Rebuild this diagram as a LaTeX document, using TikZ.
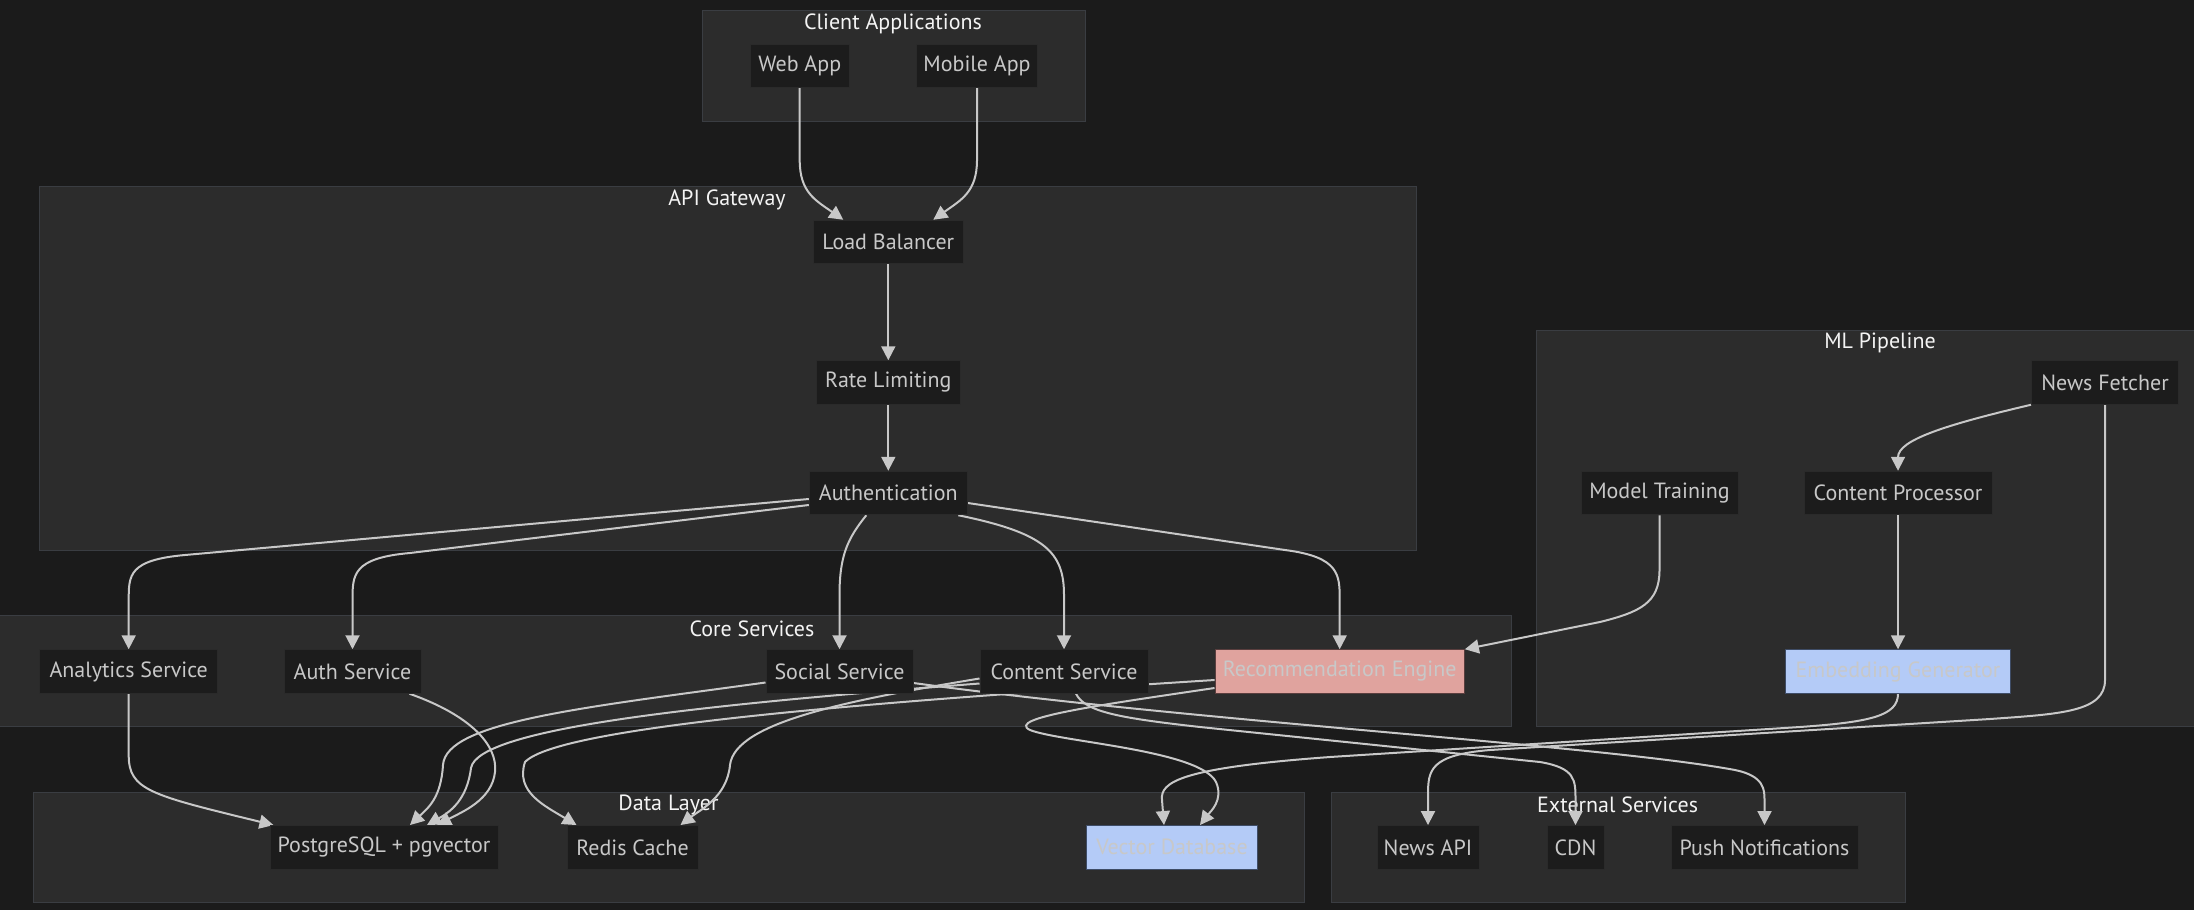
\documentclass[tikz,border=0pt]{standalone}
\usepackage{fontspec}
\newfontfamily\dfont{PT Sans}
\usetikzlibrary{arrows.meta}
\definecolor{bgc}{HTML}{1B1B1B}
\definecolor{clfill}{HTML}{2C2C2C}
\definecolor{cldraw}{HTML}{3A3D42}
\definecolor{ndfill}{HTML}{1C1C1C}
\definecolor{nddraw}{HTML}{2A2A2A}
\definecolor{ndtext}{HTML}{C8C8C8}
\definecolor{edgec}{HTML}{C8C8C8}
\definecolor{titlec}{HTML}{F4F4F4}
\definecolor{recfill}{HTML}{E0A39E}
\definecolor{recdraw}{HTML}{5A3E3E}
\definecolor{bluefill}{HTML}{B4CBF7}
\definecolor{bluedraw}{HTML}{3E4C66}
\pgfdeclarelayer{clusters}
\pgfdeclarelayer{edges}
\pgfsetlayers{clusters,edges,main}
\begin{document}
\begin{tikzpicture}[x=1pt,y=-1pt,
  nd/.style={draw=nddraw, line width=1pt, fill=ndfill, text=ndtext,
    font=\dfont\fontsize{22}{26}\selectfont, minimum height=43.5pt, inner sep=0pt},
  hot/.style={nd, fill=recfill, draw=recdraw},
  cool/.style={nd, fill=bluefill, draw=bluedraw},
  cluster/.style={draw=cldraw, line width=1pt, fill=clfill},
  ctitle/.style={text=titlec, font=\dfont\fontsize{22}{26}\selectfont, inner sep=0pt},
  edge/.style={draw=edgec, line width=2pt, -{Triangle[length=14pt,width=14pt]}},
]
\useasboundingbox (0,0) rectangle (2194,910);
\begin{pgfonlayer}{clusters}
\fill[bgc] (0,0) rectangle (2194,910);
\draw[cluster] (702.7,10) rectangle (1085,121.3);
\draw[cluster] (39,186) rectangle (1416,550);
\draw[cluster] (1536.5,330) rectangle (2200,726.7);
\draw[cluster] (-5,615.7) rectangle (1511,726.7);
\draw[cluster] (33.7,792.3) rectangle (1304,902.7);
\draw[cluster] (1331,792.3) rectangle (1905,902.7);
\node[ctitle] (tclient) at (893,23.5) {Client Applications};
\node[ctitle] (tapi) at (727,199.5) {API Gateway};
\node[ctitle] (tml) at (1880,342.5) {ML Pipeline};
\node[ctitle] (tcore) at (752,629) {Core Services};
\node[ctitle] (tdata) at (668.5,805) {Data Layer};
\node[ctitle] (text) at (1617.6,805) {External Services};
\end{pgfonlayer}

\node[nd, minimum width=99.3pt] (web) at (799.7,65.8) {Web App};
\node[nd, minimum width=120.6pt] (mob) at (977,65.8) {Mobile App};
\node[nd, minimum width=150pt] (lb) at (888.3,242) {Load Balancer};
\node[nd, minimum width=144pt] (rl) at (888.3,382.5) {Rate Limiting};
\node[nd, minimum width=158pt] (auth) at (888.3,493) {Authentication};
\node[nd, minimum width=147pt] (nf) at (2105,382.5) {News Fetcher};
\node[nd, minimum width=157pt] (mt) at (1659.5,493) {Model Training};
\node[nd, minimum width=188pt] (cp) at (1898,493) {Content Processor};
\node[cool, minimum width=225pt] (emb) at (1898,671.5) {Embedding Generator};
\node[nd, minimum width=177.5pt] (ana) at (128.7,671.5) {Analytics Service};
\node[nd, minimum width=137pt] (asv) at (352.5,671.5) {Auth Service};
\node[nd, minimum width=147pt] (soc) at (839.5,671.5) {Social Service};
\node[nd, minimum width=168pt] (con) at (1064,671.5) {Content Service};
\node[hot, minimum width=249.3pt] (rec) at (1339.7,671.5) {Recommendation Engine};
\node[nd, minimum width=228pt] (pg) at (384,847.3) {PostgreSQL + pgvector};
\node[nd, minimum width=131pt] (red) at (632.5,847.3) {Redis Cache};
\node[cool, minimum width=171.5pt] (vdb) at (1172,847.3) {Vector Database};
\node[nd, minimum width=102pt] (napi) at (1428,847.3) {News API};
\node[nd, minimum width=57pt] (cdn) at (1575.5,847.3) {CDN};
\node[nd, minimum width=187pt] (push) at (1764.5,847.3) {Push Notifications};

\begin{pgfonlayer}{edges}
\draw[edge] (web.south) -- (799.7,160) .. controls (799.7,192) and (815,200) .. ([xshift=-45pt]lb.north);
\draw[edge] (mob.south) -- (977,160) .. controls (977,192) and (961,200) .. ([xshift=45pt]lb.north);
\draw[edge] (lb.south) -- (rl.north);
\draw[edge] (rl.south) -- (auth.north);
\draw[edge] ([yshift=-6pt]auth.west) -- (185,555) .. controls (128.7,560) and (128.7,575) .. (128.7,600) -- (ana.north);
\draw[edge] ([yshift=-12pt]auth.west) -- (410,553) .. controls (352.5,558) and (352.5,575) .. (352.5,600) -- (asv.north);
\draw[edge] ([xshift=-22pt]auth.south) .. controls (848,538) and (839.5,555) .. (839.5,595) -- (soc.north);
\draw[edge] ([xshift=70pt]auth.south) .. controls (1045,533) and (1064,552) .. (1064,595) -- (con.north);
\draw[edge] ([yshift=-10pt]auth.east) -- (1285,550) .. controls (1339.7,557) and (1339.7,575) .. (1339.7,600) -- (rec.north);
\draw[edge] (nf.south west) .. controls (1945,425) and (1898,440) .. (cp.north);
\draw[edge] (cp.south) -- (emb.north);
\draw[edge] (mt.south) -- (1659.5,570) .. controls (1659.5,603) and (1640,612) .. (1600,622) -- (rec.north east);
\draw[edge] (ana.south) -- (128.7,755) .. controls (128.7,790) and (150,795) .. ([xshift=4pt]pg.north west);
\draw[edge] ([xshift=57pt]asv.south) .. controls (470,715) and (498,745) .. (495,772) .. controls (492,800) and (462,812) .. ([xshift=53pt]pg.north);
\draw[edge] ([yshift=-11pt]soc.west) .. controls (580,708) and (446,722) .. (443,765) .. controls (441,798) and (428,808) .. ([xshift=26pt]pg.north);
\draw[edge] ([yshift=-12pt]con.west) .. controls (700,705) and (478,728) .. (471,768) .. controls (467,800) and (450,812) .. ([xshift=43pt]pg.north);
\draw[edge] ([yshift=-8.5pt]rec.west) .. controls (900,700) and (560,725) .. (525,762) .. controls (515,792) and (545,806) .. ([xshift=-56pt]red.north);
\draw[edge] ([yshift=-7pt]con.west) .. controls (850,700) and (735,722) .. (730,765) .. controls (727,797) and (700,810) .. ([xshift=48pt]red.north);
\draw[edge] ([xshift=12pt]con.south) .. controls (1085,712) and (1120,718) .. (1200,727) -- (1540,762) .. controls (1575.5,768) and (1575.5,780) .. (1575.5,800) -- (cdn.north);
\draw[edge] ([yshift=-11.5pt]soc.east) .. controls (1200,722) and (1600,745) .. (1735,770) .. controls (1764.5,776) and (1764.5,790) .. (1764.5,800) -- (push.north);
\draw[edge] ([yshift=-16.5pt]rec.west) .. controls (1100,705) and (1005,718) .. (1030,730) .. controls (1060,742) and (1200,750) .. (1216,782) .. controls (1224,800) and (1210,812) .. ([xshift=28pt]vdb.north);
\draw[edge] (emb.south) .. controls (1898,716) and (1870,722) .. (1800,727) -- (1330,757) .. controls (1180,768) and (1160,782) .. (1162,800) -- ([xshift=-8pt]vdb.north);
\draw[edge] (nf.south) -- (2105,680) .. controls (2105,712) and (2060,714) .. (1990,719) -- (1490,750) .. controls (1430,755) and (1428,770) .. (1428,795) -- (napi.north);
\end{pgfonlayer}
\end{tikzpicture}
\end{document}
